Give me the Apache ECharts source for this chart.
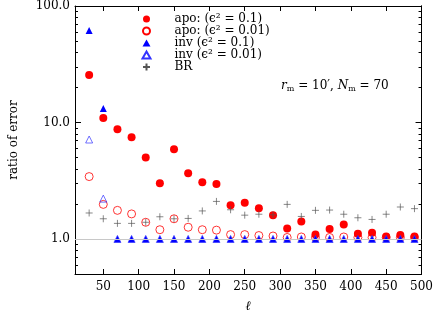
<!DOCTYPE html>
<html><head><meta charset="utf-8">
<script src="https://cdn.jsdelivr.net/npm/echarts@6/dist/echarts.min.js"></script>
<style>html,body{margin:0;padding:0;background:#fff}#c{width:436px;height:318px}</style>
</head><body><div id="c"></div>
<script>
const ell = [30,50,70,90,110,130,150,170,190,210,230,250,270,290,310,330,350,370,390,410,430,450,470,490];
const apo01 = [25.5,10.9,8.74,7.48,5.0,3.01,5.88,3.66,3.07,2.96,1.95,2.05,1.83,1.60,1.23,1.41,1.09,1.22,1.33,1.11,1.13,1.05,1.08,1.05];
const apo001 = [3.43,1.98,1.76,1.64,1.39,1.20,1.49,1.26,1.20,1.19,1.09,1.09,1.07,1.06,1.03,1.04,1.03,1.03,1.04,1.03,1.03,1.03,1.03,1.03];
const inv01 = [61.6,13.2,1.0,1.0,1.0,1.0,1.0,1.0,1.0,1.0,1.0,1.0,1.0,1.0,1.0,1.0,1.0,1.0,1.0,1.0,1.0,1.0,1.0,1.0];
const inv001 = [7.14,2.22,1.0,1.0,1.0,1.0,1.0,1.0,1.0,1.0,1.0,1.0,1.0,1.0,1.0,1.0,1.0,1.0,1.0,1.0,1.0,1.0,1.0,1.0];
const br = [1.67,1.49,1.36,1.36,1.39,1.55,1.49,1.50,1.74,2.10,1.78,1.60,1.63,1.61,1.98,1.56,1.76,1.77,1.63,1.52,1.47,1.63,1.88,1.82];
const xTicks = [50,100,150,200,250,300,350,400,450,500];
const yMajor = [1,10,100];
const yMinor = [0.6,0.7,0.8,0.9,2,3,4,5,6,7,8,9,20,30,40,50,60,70,80,90];
const names = ['apo: (ϵ² = 0.1)','apo: (ϵ² = 0.01)','inv (ϵ² = 0.1)','inv (ϵ² = 0.01)','BR'];

const FONT = 'DejaVu Serif';
const pairs = v => ell.map((x,i)=>[x, v[i]]);

function yAx(pos, ticks, len, labels, extra){
  const o = {
    type:'log', logBase:10, min:0.5, max:100, position:pos,
    axisLine:{show: labels || pos==='right', onZero:false, lineStyle:{color:'#000', width:1}},
    axisTick:{show:true, inside:true, length:len, customValues:ticks, lineStyle:{color:'#000', width:1}},
    axisLabel: labels ? {show:true, customValues:yMajor, formatter:v=>Number(v).toFixed(1),
      color:'#000', fontFamily:FONT, fontSize:12, margin:5} : {show:false},
    splitLine:{show:false}, minorTick:{show:false}
  };
  return Object.assign(o, extra||{});
}
function xAx(pos, labels){
  const o = {
    type:'value', min:10, max:500, position:pos,
    axisLine:{show:true, onZero:false, lineStyle:{color:'#000', width:1}},
    axisTick:{show:true, inside:true, length:5, customValues:xTicks, lineStyle:{color:'#000', width:1}},
    axisLabel: labels ? {show:true, customValues:xTicks, color:'#000', fontFamily:FONT, fontSize:12, margin:7} : {show:false},
    splitLine:{show:false}
  };
  if (labels) {
    o.name = 'ℓ'; o.nameLocation = 'middle'; o.nameGap = 26;
    o.nameTextStyle = {fontFamily:FONT, fontSize:13, fontStyle:'italic', color:'#000'};
  }
  return o;
}

const chart = echarts.init(document.getElementById('c'));
chart.setOption({
  animation:false,
  grid:{left:66, right:12, top:5, bottom:40},
  xAxis:[xAx('bottom', true), xAx('top', false)],
  yAxis:[
    yAx('left', yMajor, 6, true, {name:'ratio of error', nameLocation:'middle', nameGap:55, nameRotate:90,
      nameTextStyle:{fontFamily:FONT, fontSize:12, color:'#000'}}),
    yAx('left', yMinor, 3, false),
    yAx('right', yMajor, 6, false),
    yAx('right', yMinor, 3, false)
  ],
  legend:{
    data:names, orient:'vertical', left:135, top:8, itemWidth:8, itemHeight:7, itemGap:0,
    textStyle:{fontFamily:FONT, fontSize:12, color:'#000', padding:[0,0,0,19]}
  },
  graphic:[{
    type:'text', left:281, top:80,
    style:{
      text:'{i|r}{s|m} = 10′, {i|N}{s|m} = 70',
      font:'12px "DejaVu Serif"', fill:'#000',
      rich:{
        i:{fontFamily:FONT, fontSize:12, fontStyle:'italic', fill:'#000'},
        s:{fontFamily:FONT, fontSize:8, fill:'#000', padding:[6,0,0,0]}
      }
    }
  }],
  series:[
    {type:'scatter', name:'_ref', data:[], z:1, silent:true,
     markLine:{silent:true, symbol:['none','none'], label:{show:false},
       lineStyle:{color:'#c8c8c8', width:1, type:'solid'}, data:[{yAxis:1}]}},
    {type:'scatter', name:names[0], data:pairs(apo01), symbol:'circle', symbolSize:8, z:3,
     itemStyle:{color:'#ff0000', opacity:1}},
    {type:'scatter', name:names[1], data:pairs(apo001), symbol:'circle', symbolSize:8, z:3,
     itemStyle:{color:'none', borderColor:'#ff0000', borderWidth:0.8, opacity:1}},
    {type:'scatter', name:names[2], data:pairs(inv01), symbol:'triangle', symbolSize:7, z:4,
     itemStyle:{color:'#0000ff', opacity:1}},
    {type:'scatter', name:names[3], data:pairs(inv001), symbol:'triangle', symbolSize:7, z:4,
     itemStyle:{color:'none', borderColor:'#3333ff', borderWidth:0.7, opacity:1}},
    {type:'scatter', name:names[4], data:pairs(br), symbol:'path://M-5,0L5,0M0,-5L0,5', symbolSize:7, z:5,
     itemStyle:{color:'none', borderColor:'#555', borderWidth:0.7, opacity:1}}
  ]
});
</script></body></html>
